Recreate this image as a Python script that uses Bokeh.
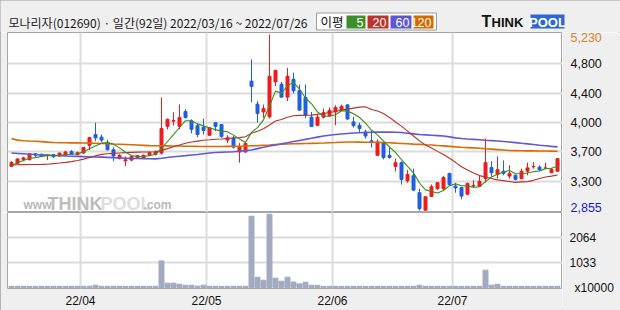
import numpy as np
from bokeh.plotting import figure
from bokeh.layouts import column, row
from bokeh.models import Range1d, FixedTicker, ColumnDataSource
from bokeh.core.properties import value
from bokeh.embed import file_html
from bokeh.resources import INLINE

# ---------------- data ----------------
TITLE = "모나리자(012690) · 일간(92일) 2022/03/16 ~ 2022/07/26"

OPEN = [3450, 3490, 3545, 3540, 3620, 3615, 3600, 3610, 3590, 3600,
        3650, 3610, 3630, 3735, 3880, 3845, 3775, 3675, 3555, 3525,
        3535, 3565, 3560, 3600, 3610, 3630, 3990, 4060, 3990, 4190,
        4065, 4000, 3980, 3870, 4040, 4015, 3805, 3835, 3645, 3645,
        4600, 4290, 4185, 4120, 4590, 4560, 4385, 4625, 4475, 4380,
        4115, 4005, 4115, 4135, 4185, 4210, 4280, 4050, 4005, 3915,
        3795, 3600, 3765, 3600, 3450, 3500, 3255, 3325, 3095, 2860,
        3045, 3150, 3150, 3355, 3185, 3165, 3075, 3185, 3180, 3285,
        3435, 3340, 3385, 3320, 3330, 3285, 3385, 3445, 3440, 3425,
        3365, 3385]
HIGH = [3520, 3560, 3580, 3630, 3630, 3620, 3610, 3615, 3635, 3660,
        3670, 3650, 3715, 3850, 4040, 3880, 3810, 3710, 3615, 3585,
        3595, 3605, 3610, 3655, 3665, 4380, 4095, 4180, 4285, 4220,
        4085, 4035, 4095, 3980, 4045, 4020, 3870, 3860, 3765, 3780,
        4895, 4330, 4285, 5230, 4755, 4590, 4780, 4715, 4555, 4555,
        4185, 4160, 4230, 4245, 4275, 4285, 4290, 4120, 4040, 3945,
        3930, 3815, 3780, 3700, 3555, 3520, 3400, 3420, 3150, 3045,
        3205, 3240, 3320, 3365, 3230, 3175, 3230, 3265, 3330, 3825,
        3520, 3585, 3530, 3465, 3340, 3420, 3500, 3510, 3465, 3500,
        3430, 3560]
LOW = [3445, 3480, 3520, 3535, 3570, 3575, 3535, 3565, 3585, 3590,
       3610, 3600, 3620, 3670, 3790, 3780, 3665, 3520, 3545, 3455,
       3520, 3555, 3555, 3590, 3600, 3610, 3950, 4000, 3950, 4095,
       3895, 3845, 3880, 3860, 3925, 3835, 3765, 3690, 3500, 3635,
       4315, 4040, 4105, 4095, 4535, 4375, 4330, 4435, 4200, 4100,
       3985, 3995, 4095, 4115, 4005, 4195, 4075, 3975, 3900, 3825,
       3705, 3590, 3545, 3555, 3385, 3205, 3230, 3115, 2855, 2855,
       3040, 3130, 3130, 3195, 3095, 3005, 3065, 3160, 3175, 3230,
       3315, 3285, 3330, 3285, 3260, 3275, 3330, 3420, 3385, 3420,
       3360, 3380]
CLOSE = [3505, 3550, 3565, 3620, 3600, 3590, 3605, 3580, 3630, 3645,
         3615, 3635, 3705, 3840, 3835, 3805, 3675, 3590, 3600, 3540,
         3585, 3595, 3600, 3635, 3645, 3960, 4085, 4070, 4110, 4110,
         3950, 3880, 3935, 3970, 3990, 3855, 3835, 3710, 3715, 3760,
         4530, 4165, 4230, 4665, 4745, 4385, 4665, 4470, 4210, 4140,
         3990, 4115, 4175, 4205, 4245, 4260, 4090, 4000, 3960, 3860,
         3780, 3780, 3570, 3570, 3500, 3275, 3340, 3130, 2880, 3040,
         3175, 3230, 3300, 3205, 3160, 3050, 3220, 3195, 3250, 3500,
         3365, 3405, 3355, 3355, 3275, 3385, 3430, 3450, 3405, 3430,
         3410, 3555]
VOLUME = [48, 52, 50, 47, 50, 52, 49, 50, 51, 48,
          50, 49, 52, 55, 95, 50, 48, 52, 50, 47,
          50, 49, 51, 50, 52, 1100, 180, 180, 135, 95,
          95, 55, 95, 52, 50, 48, 50, 52, 50, 49,
          2945, 425, 300, 3027, 385, 260, 425, 225, 150, 215,
          95, 90, 50, 48, 52, 50, 49, 51, 50, 48,
          52, 50, 49, 51, 50, 52, 48, 50, 95, 50,
          49, 51, 50, 48, 52, 50, 49, 51, 50, 715,
          95, 135, 50, 52, 49, 50, 51, 48, 50, 52,
          49, 50]
MA5 = [3455, 3500, 3530, 3560, 3568, 3585, 3596, 3598, 3600, 3609,
       3614, 3621, 3646, 3688, 3726, 3764, 3771, 3748, 3700, 3641,
       3598, 3583, 3585, 3593, 3613, 3688, 3786, 3880, 3975, 4067,
       4066, 4024, 3997, 3969, 3946, 3926, 3917, 3872, 3820, 3774,
       3909, 3974, 4079, 4269, 4466, 4437, 4537, 4585, 4494, 4373,
       4295, 4185, 4126, 4126, 4147, 4201, 4196, 4160, 4110, 4034,
       3938, 3876, 3791, 3712, 3640, 3540, 3451, 3363, 3226, 3133,
       3112, 3090, 3125, 3190, 3214, 3190, 3187, 3166, 3175, 3244,
       3307, 3344, 3376, 3396, 3351, 3355, 3360, 3379, 3389, 3420,
       3425, 3451]
MA20 = [3470, 3472, 3474, 3475, 3476, 3477, 3480, 3488, 3496, 3505,
        3515, 3530, 3548, 3570, 3592, 3612, 3620, 3626, 3631, 3636,
        3640, 3643, 3644, 3645, 3647, 3666, 3690, 3715, 3739, 3762,
        3779, 3791, 3803, 3809, 3817, 3819, 3828, 3834, 3839, 3850,
        3897, 3925, 3957, 4008, 4063, 4084, 4113, 4133, 4138, 4140,
        4142, 4153, 4165, 4177, 4190, 4210, 4223, 4237, 4250, 4255,
        4218, 4198, 4165, 4111, 4049, 3993, 3927, 3860, 3794, 3739,
        3698, 3653, 3610, 3559, 3505, 3445, 3401, 3361, 3326, 3308,
        3287, 3268, 3258, 3247, 3235, 3241, 3245, 3262, 3288, 3307,
        3319, 3335]
MA60 = [3630, 3625, 3620, 3615, 3610, 3606, 3602, 3598, 3594, 3590,
        3587, 3585, 3582, 3579, 3577, 3575, 3572, 3568, 3565, 3561,
        3558, 3556, 3554, 3553, 3552, 3560, 3570, 3580, 3588, 3595,
        3603, 3610, 3620, 3630, 3637, 3641, 3645, 3648, 3655, 3663,
        3672, 3690, 3708, 3725, 3740, 3755, 3770, 3785, 3800, 3815,
        3830, 3845, 3860, 3870, 3880, 3887, 3894, 3900, 3905, 3908,
        3911, 3913, 3915, 3913, 3910, 3907, 3898, 3889, 3880, 3875,
        3870, 3865, 3860, 3848, 3835, 3826, 3820, 3815, 3809, 3803,
        3798, 3792, 3786, 3780, 3771, 3762, 3754, 3745, 3736, 3728,
        3720, 3713]
MA120 = [3825, 3805, 3797, 3793, 3790, 3785, 3778, 3772, 3770, 3769,
         3768, 3767, 3766, 3764, 3762, 3759, 3757, 3753, 3750, 3746,
         3742, 3738, 3734, 3730, 3729, 3728, 3727, 3726, 3725, 3723,
         3722, 3720, 3719, 3718, 3718, 3719, 3720, 3721, 3722, 3725,
         3728, 3731, 3735, 3739, 3744, 3748, 3752, 3755, 3757, 3759,
         3761, 3763, 3766, 3770, 3773, 3777, 3780, 3779, 3778, 3777,
         3776, 3775, 3773, 3769, 3764, 3760, 3756, 3751, 3747, 3742,
         3738, 3732, 3727, 3720, 3713, 3708, 3704, 3700, 3694, 3688,
         3683, 3677, 3671, 3665, 3663, 3661, 3660, 3659, 3658, 3657,
         3656, 3655]

MONTH_START = [12, 33, 54, 74]          # index of first trading day of each month
MONTH_LABELS = ["22/04", "22/05", "22/06", "22/07"]
PRICE_LABELS = ["3,300", "3,700", "4,000", "4,400", "4,800"]
PRICE_MAX_LABEL = "5,230"
PRICE_MIN_LABEL = "2,855"
VOL_TICKS = [1033, 2064]
VOL_LABELS = ["1033", "2064"]
VOL_UNIT = "x10000"
MA_NAMES = ["5", "20", "60", "120"]

# ---------------- style ----------------
BG = "#efefef"
FRAME = "#a6a6a6"
GRID = "#dcdcdc"
UP = "#ee1c1c"
DOWN = "#1f5fe0"
MA_COLORS = ["#3c8c1c", "#b8302c", "#6257da", "#dc6a00"]
BOX_COLORS = ["#3e8e2a", "#c0322c", "#5d57d8", "#d86800"]
VOL_COLOR = "#a3abc3"
FONT = "Liberation Sans"
LBL_SIZE = "12.5px"

n = len(CLOSE)
idx = list(range(n))
PMAX, PMIN = max(HIGH), min(LOW)
ppx = (PMAX - PMIN) / 176.0            # price per pixel
yr = Range1d(PMIN - 2 * ppx, PMAX + 2 * ppx)
xr = Range1d(-0.5 - 1 / 6, n - 0.5 + 2 / 6)
month_ticks = [s - 0.5 for s in MONTH_START]
vpx = VOL_TICKS[0] / 25.0               # volume per pixel
vr = Range1d(-vpx, 75 * vpx)


def px_x(px):
    return (px - 11) / 6.0


def px_y(py):
    return PMAX - (py - 34) * ppx


def hy(py):
    # header: pixel row (from top) -> header y coordinate (y up)
    return 32 - py


def base_fig(**kw):
    f = figure(toolbar_location=None, output_backend="svg", **kw)
    f.frame_align = False
    return f


def strip(width, height, y_range, bottom=0):
    f = base_fig(width=width, height=height, x_range=Range1d(0, width), y_range=y_range,
                 x_axis_location=None, y_axis_location=None,
                 min_border_left=0, min_border_right=0, min_border_top=0,
                 min_border_bottom=bottom,
                 background_fill_color=BG, border_fill_color=BG, outline_line_color=None)
    f.grid.visible = False
    return f


# ---------------- header ----------------
h = strip(620, 32, Range1d(0, 32))
h.text(x=[8], y=[hy(22)], text=[TITLE], text_font=value("Noto Sans CJK KR"),
       text_font_size="12px", text_baseline="middle", text_color="#1a1a1a")
h.quad(left=[316], right=[436], top=[hy(12.5)], bottom=[hy(29.5)],
       fill_color="white", line_color="#9c9c9c", line_width=1)
h.text(x=[320], y=[hy(21)], text=["이평"], text_font=value("Noto Sans CJK KR"),
       text_font_size="12.5px", text_baseline="middle", text_color="#111")
bl = [346, 367, 390, 413]
br = [365, 388, 411, 433]
h.quad(left=bl, right=br, top=[hy(15)] * 4, bottom=[hy(28)] * 4,
       fill_color=BOX_COLORS, line_color=None)
h.text(x=[r - 2 for r in br], y=[hy(21.5)] * 4, text=MA_NAMES, text_font=value(FONT),
       text_font_size="12.5px", text_align="right", text_baseline="middle", text_color="white")
h.text(x=[481], y=[hy(21)], text=["T"], text_font=value(FONT), text_font_size="16px",
       text_font_style="bold", text_baseline="middle", text_color="#111")
h.text(x=[491], y=[hy(22)], text=["HINK"], text_font=value(FONT), text_font_size="13px",
       text_font_style="bold", text_baseline="middle", text_color="#111")
h.quad(left=[530], right=[564], top=[hy(14)], bottom=[hy(28)], fill_color="#2f67d8", line_color=None)
h.text(x=[547], y=[hy(21.5)], text=["POOL"], text_font=value(FONT), text_font_size="13px",
       text_font_style="bold", text_align="center", text_baseline="middle", text_color="white")

# ---------------- price panel ----------------
p = base_fig(width=562, height=180, x_range=xr, y_range=yr,
             x_axis_location=None, y_axis_location=None,
             min_border_left=7, min_border_right=0, min_border_top=0, min_border_bottom=0,
             background_fill_color="white", border_fill_color=BG,
             outline_line_color=FRAME, outline_line_width=1)
pticks = [int(round(t)) for t in np.linspace(PMIN, PMAX, 7)[1:-1]]
p.xgrid.ticker = FixedTicker(ticks=month_ticks)
p.ygrid.ticker = FixedTicker(ticks=pticks)
for g in (p.xgrid, p.ygrid):
    g.grid_line_color = GRID
    g.grid_line_width = 2

# watermark
p.text(x=[px_x(23)], y=[px_y(204)], text=["www."], text_font=value(FONT), text_font_size="12px",
       text_font_style="bold", text_color="#b9b9b9", text_baseline="middle")
p.text(x=[px_x(47)], y=[px_y(203)], text=["THINK"], text_font=value(FONT), text_font_size="18px",
       text_font_style="bold", text_color="#bdbdbd", text_baseline="middle")
p.text(x=[px_x(100)], y=[px_y(203)], text=["POOL"], text_font=value(FONT), text_font_size="18px",
       text_font_style="bold", text_color="#dedede", text_baseline="middle")
p.text(x=[px_x(143)], y=[px_y(204)], text=[".com"], text_font=value(FONT), text_font_size="12px",
       text_font_style="bold", text_color="#b9b9b9", text_baseline="middle")

colors = [UP if c >= o else DOWN for o, c in zip(OPEN, CLOSE)]
src = ColumnDataSource(dict(
    x=idx, open=OPEN, high=HIGH, low=LOW, close=CLOSE,
    top=[max(o, c) for o, c in zip(OPEN, CLOSE)],
    bottom=[min(o, c) for o, c in zip(OPEN, CLOSE)],
    color=colors))
p.segment(x0="x", y0="low", x1="x", y1="high", color="color", line_width=1, source=src)
p.vbar(x="x", width=0.5, top="top", bottom="bottom", fill_color="color",
       line_color="color", line_width=1, source=src)

p.line(idx, MA120, color=MA_COLORS[3], line_width=1.6)
p.line(idx, MA60, color=MA_COLORS[2], line_width=1.6)
p.line(idx, MA20, color=MA_COLORS[1], line_width=1.1)
p.line(idx, MA5, color=MA_COLORS[0], line_width=1.1)

# ---------------- volume panel ----------------
v = base_fig(width=562, height=98, x_range=xr, y_range=vr,
             y_axis_location=None, min_border_left=7, min_border_right=0,
             min_border_top=0, min_border_bottom=22,
             background_fill_color="white", border_fill_color=BG,
             outline_line_color=FRAME, outline_line_width=1)
v.vbar(x=idx, top=VOLUME, bottom=0, width=5 / 6, color=VOL_COLOR)
v.xaxis.ticker = FixedTicker(ticks=month_ticks)
v.xaxis.major_label_overrides = {t: l for t, l in zip(month_ticks, MONTH_LABELS)}
v.xgrid.ticker = FixedTicker(ticks=month_ticks)
v.ygrid.ticker = FixedTicker(ticks=VOL_TICKS)
v.xaxis.axis_line_color = None
v.xaxis.major_tick_line_color = None
v.xaxis.minor_tick_line_color = None
v.xaxis.major_tick_out = 0
v.xaxis.major_tick_in = 0
v.xaxis.major_label_text_font = FONT
v.xaxis.major_label_text_font_size = "12px"
v.xaxis.major_label_text_color = "#111"
v.xaxis.major_label_standoff = 5
for g in (v.xgrid, v.ygrid):
    g.grid_line_color = GRID
    g.grid_line_width = 2

# ---------------- right-hand scales (one strip for both panels) ----------------
# price scale continues the price panel's mapping; volume scale continues the volume panel's.
lab_h = 180 + 98
lab = strip(58, lab_h, Range1d(yr.end - lab_h * ppx, yr.end))
lab.extra_y_ranges = {"vol": Range1d(vr.start - 22 * vpx, vr.start - 22 * vpx + lab_h * vpx)}
lab.text(x=[8] * len(pticks), y=pticks, text=PRICE_LABELS, text_font=value(FONT),
         text_font_size=LBL_SIZE, text_baseline="middle", text_color="#111")
lab.text(x=[8], y=[PMAX], y_offset=3, text=[PRICE_MAX_LABEL], text_font=value(FONT),
         text_font_size=LBL_SIZE, text_baseline="middle", text_color="#d8802c")
lab.text(x=[8], y=[PMIN], y_offset=-3, text=[PRICE_MIN_LABEL], text_font=value(FONT),
         text_font_size=LBL_SIZE, text_baseline="middle", text_color="#1a1ad0")
lab.text(x=[7] * len(VOL_TICKS), y=VOL_TICKS, text=VOL_LABELS, text_font=value(FONT),
         text_font_size="12px", text_baseline="middle", text_color="#111", y_range_name="vol")
lab.text(x=[12], y=[0], text=[VOL_UNIT], text_font=value(FONT),
         text_font_size="12px", text_baseline="middle", text_color="#111", y_range_name="vol")

layout = column(h, row(column(p, v, spacing=0), lab, spacing=0), spacing=0,
                styles={"outline": "1px solid #a0a0a0", "outline-offset": "-1px"})
open("out.html", "w").write(file_html(layout, INLINE))
